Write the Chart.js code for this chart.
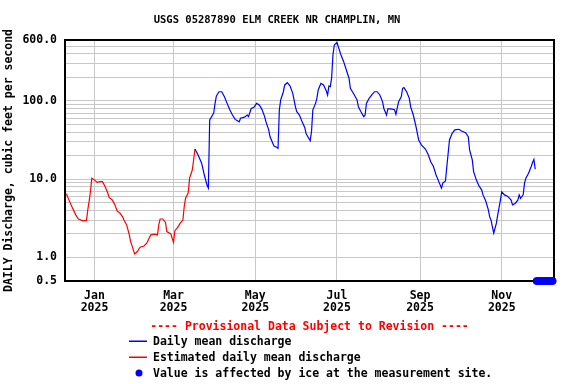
<!DOCTYPE html>
<html>
<head>
<meta charset="utf-8">
<script src="https://cdn.jsdelivr.net/npm/chart.js@4.4.1/dist/chart.umd.min.js"></script>
<style>
    html, body { margin: 0; padding: 0; background: #fff; }
    #wrap { width: 576px; height: 384px; }
</style>
</head>
<body>
<div id="wrap"><canvas id="flowChart" width="576" height="384"></canvas></div>
<script>
// days counted from 2024-12-10 (day 0) to 2025-12-10 (day 365)
const estDays = [1, 3, 5, 8, 10, 13, 16, 17, 18, 19, 20, 22, 24, 26, 28, 30, 32, 33, 35, 37,
    39, 41, 43, 44, 46, 48, 49, 51, 52, 54, 56, 59, 61, 64, 67, 69, 70, 71, 73, 75,
    76, 79, 80, 81, 82, 84, 86, 88, 89, 90, 92, 93, 95, 96, 97];
const estFlow = [6.5, 5.4, 4.5, 3.5, 3.1, 2.95, 2.95, 4.05, 5.2, 6.9, 10.3, 9.8, 9.1, 9.3, 9.3, 8.0, 6.6, 5.8, 5.5, 4.8,
    3.9, 3.7, 3.3, 3.0, 2.6, 1.94, 1.59, 1.25, 1.11, 1.19, 1.35, 1.40, 1.52, 1.94, 1.98, 1.94, 2.6, 3.1, 3.1, 2.8,
    2.14, 2.0, 1.76, 1.56, 2.2, 2.4, 2.74, 3.0, 4.5, 5.7, 6.7, 10.3, 13.1, 17.6, 24.3];

const dailyDays = [97, 99, 102, 104, 106, 107, 108, 111, 112, 113, 115, 117, 119, 121, 123, 125, 127, 130, 131, 134,
    136, 137, 139, 141, 143, 145, 147, 149, 150, 152, 153, 155, 156, 158, 159, 160, 161, 163, 164, 166,
    168, 170, 172, 173, 175, 177, 179, 180, 183, 184, 185, 187, 188, 189, 191, 193, 195, 196, 197, 198,
    199, 200, 201, 203, 204, 206, 208, 210, 212, 213, 216, 218, 219, 221, 223, 224, 225, 227, 229, 231,
    233, 235, 237, 238, 240, 241, 243, 246, 247, 249, 251, 252, 253, 255, 257, 258, 260, 262, 264, 266,
    269, 271, 273, 275, 277, 279, 281, 282, 284, 285, 286, 287, 289, 291, 294, 296, 299, 301, 302, 304,
    305, 307, 309, 311, 312, 314, 316, 317, 318, 320, 321, 322, 323, 325, 326, 328, 330, 331, 333, 334,
    336, 338, 339, 340, 342, 343, 344, 346, 348, 349, 350, 351];
const dailyFlow = [24.3, 21, 16, 11.3, 8.4, 7.7, 57, 70, 93, 116, 131, 131, 113, 93, 77, 66, 58, 54, 60, 62,
    66, 63, 80, 83, 93, 89, 78, 63, 54, 43, 35, 29, 26.5, 25.6, 24.8, 77, 103, 131, 160, 171,
    155, 125, 84, 73, 66, 54, 45.5, 38, 31, 40.5, 77, 93, 108, 138, 168, 160, 135, 119, 155, 152,
    195, 386, 518, 561, 492, 386, 317, 248, 195, 145, 119, 103, 84, 72, 63, 66, 93, 108, 119, 131,
    131, 119, 98, 80, 66, 79, 79, 77, 67.5, 98, 113, 145, 148, 131, 108, 84, 66, 47, 31.7, 27.4,
    24.3, 20.8, 16.7, 14.5, 11.3, 9.3, 7.7, 8.9, 9.5, 14.5, 21.4, 31.7, 38.5, 42.6, 43.4, 41.3, 39.3, 34.9, 23.6, 17.6,
    12.5, 9.8, 8.2, 7.3, 6.3, 5.3, 4.05, 3.3, 3.0, 2.04, 2.36, 2.74, 3.5, 5.4, 6.9, 6.3, 6.1, 5.9, 5.4, 4.7,
    4.9, 5.4, 6.3, 5.7, 6.3, 8.9, 10.3, 11.9, 14.5, 16.3, 17.9, 13.4];

const iceDays = [352, 353, 354, 355, 356, 357, 358, 359, 360, 361, 362, 363, 364];
const iceFlow = [0.5, 0.5, 0.5, 0.5, 0.5, 0.5, 0.5, 0.5, 0.5, 0.5, 0.5, 0.5, 0.5];

const xTickDays = [22, 81, 142, 203, 265, 326];
const xTickLabels = [['Jan', '2025'], ['Mar', '2025'], ['May', '2025'], ['Jul', '2025'], ['Sep', '2025'], ['Nov', '2025']];

const yGridValues = [0.5, 1, 2, 3, 4, 5, 6, 7, 8, 9, 10, 20, 30, 40, 50, 60, 70, 80, 90, 100, 200, 300, 400, 500, 600];
const yLabelValues = [0.5, 1, 10, 100, 600];
const yLabelTexts = ['0.5', '1.0', '10.0', '100.0', '600.0'];

const chartTitle = 'USGS 05287890 ELM CREEK NR CHAMPLIN, MN';
const yTitle = 'DAILY Discharge, cubic feet per second';
const provisionalNote = '---- Provisional Data Subject to Revision ----';
const legendLabels = ['Daily mean discharge', 'Estimated daily mean discharge', 'Value is affected by ice at the measurement site.'];

const FONT = '"DejaVu Sans Mono", "Liberation Mono", monospace';

function toPoints(days, values) {
    return days.map(function (d, i) { return { x: d, y: values[i] }; });
}

const frameAndLegend = {
    id: 'frameAndLegend',
    beforeDatasetsDraw: function (chart) {
        const ctx = chart.ctx;
        const a = chart.chartArea;
        ctx.save();
        ctx.strokeStyle = '#000';
        ctx.lineWidth = 2;
        ctx.strokeRect(a.left, a.top, a.right - a.left, a.bottom - a.top);
        ctx.restore();
    },
    afterDraw: function (chart) {
        const ctx = chart.ctx;
        const a = chart.chartArea;
        ctx.save();
        ctx.font = 'bold 11.5px ' + FONT;
        ctx.textBaseline = 'middle';

        ctx.fillStyle = '#ff0000';
        ctx.textAlign = 'center';
        ctx.fillText(provisionalNote, (a.left + a.right) / 2, a.bottom + 46);

        ctx.textAlign = 'left';
        const rows = [a.bottom + 60, a.bottom + 76, a.bottom + 92];
        const colors = ['#0000ff', '#ff0000'];
        for (let i = 0; i < 2; i++) {
            ctx.fillStyle = colors[i];
            ctx.fillRect(129, rows[i] - 0.5, 18, 1.5);
        }
        ctx.fillStyle = '#0000ff';
        ctx.beginPath();
        ctx.arc(139, rows[2], 3.5, 0, Math.PI * 2);
        ctx.fill();

        ctx.fillStyle = '#000';
        for (let i = 0; i < 3; i++) {
            ctx.fillText(legendLabels[i], 153, rows[i] + 1);
        }
        ctx.restore();
    }
};

new Chart(document.getElementById('flowChart'), {
    type: 'line',
    data: {
        datasets: [
            {
                label: legendLabels[0],
                data: toPoints(dailyDays, dailyFlow),
                borderColor: '#0000ff',
                borderWidth: 1.2,
                pointRadius: 0,
                tension: 0,
                fill: false
            },
            {
                label: legendLabels[1],
                data: toPoints(estDays, estFlow),
                borderColor: '#ff0000',
                borderWidth: 1.2,
                pointRadius: 0,
                tension: 0,
                fill: false
            },
            {
                label: legendLabels[2],
                data: toPoints(iceDays, iceFlow),
                showLine: false,
                pointRadius: 3.5,
                pointBackgroundColor: '#0000ff',
                pointBorderColor: '#0000ff',
                pointBorderWidth: 1,
                clip: false
            }
        ]
    },
    options: {
        responsive: false,
        animation: false,
        events: [],
        layout: { padding: { left: 0, right: 22, top: 0, bottom: 0 } },
        plugins: {
            legend: { display: false },
            tooltip: { enabled: false },
            title: {
                display: true,
                text: chartTitle,
                color: '#000',
                font: { family: FONT, size: 10.5, weight: 'bold', lineHeight: '13px' },
                padding: { top: 14, bottom: 13 }
            }
        },
        scales: {
            x: {
                type: 'linear',
                min: 0,
                max: 365,
                afterFit: function (scale) { scale.height = 103; },
                afterBuildTicks: function (scale) {
                    scale.ticks = xTickDays.map(function (d) { return { value: d }; });
                },
                ticks: {
                    autoSkip: false,
                    maxRotation: 0,
                    padding: 9,
                    color: '#000',
                    font: { family: FONT, size: 11.5, weight: 'bold', lineHeight: '12px' },
                    callback: function (value) {
                        const i = xTickDays.indexOf(value);
                        return i >= 0 ? xTickLabels[i] : '';
                    }
                },
                grid: { color: '#c8c8c8', lineWidth: 1, drawTicks: false },
                border: { display: false }
            },
            y: {
                type: 'logarithmic',
                min: 0.5,
                max: 600,
                afterFit: function (scale) { scale.width = 65; },
                afterBuildTicks: function (scale) {
                    scale.ticks = yGridValues.map(function (v) { return { value: v }; });
                },
                ticks: {
                    autoSkip: false,
                    padding: 8,
                    color: '#000',
                    font: { family: FONT, size: 11.5, weight: 'bold' },
                    callback: function (value) {
                        const i = yLabelValues.indexOf(value);
                        return i >= 0 ? yLabelTexts[i] : '';
                    }
                },
                grid: {
                    drawTicks: false,
                    lineWidth: 1,
                    color: function (ctx) {
                        return ctx.tick && ctx.tick.value < 1 ? 'rgba(0,0,0,0)' : '#c8c8c8';
                    }
                },
                border: { display: false },
                title: {
                    display: true,
                    text: yTitle,
                    color: '#000',
                    font: { family: FONT, size: 11.5, weight: 'bold', lineHeight: 1.2 },
                    padding: { top: 2, bottom: 0 }
                }
            }
        }
    },
    plugins: [frameAndLegend]
});
</script>
</body>
</html>
